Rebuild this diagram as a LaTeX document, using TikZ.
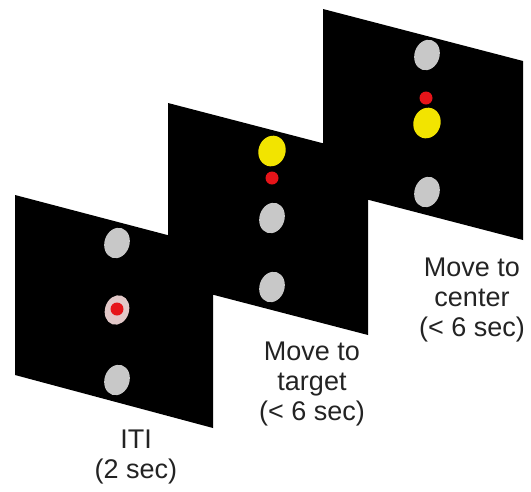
\documentclass[tikz,border=0pt]{standalone}
\usepackage{fontspec}
\setmainfont{Liberation Sans}
\usetikzlibrary{shapes.geometric}
\definecolor{dotgray}{RGB}{200,200,200}
\definecolor{dotyellow}{RGB}{242,228,0}
\definecolor{dotred}{RGB}{230,20,25}
\definecolor{ringpink}{RGB}{226,200,200}
\definecolor{txtcol}{RGB}{35,35,35}
\begin{document}
\begin{tikzpicture}[x=1pt,y=-1pt,
  panel/.style={fill=black,draw=none},
  gdot/.style={ellipse,fill=dotgray,draw=none,minimum width=25pt,minimum height=31pt,inner sep=0pt,rotate=-18},
  ydot/.style={ellipse,fill=dotyellow,draw=none,minimum width=27pt,minimum height=31pt,inner sep=0pt,rotate=-18},
  rdot/.style={circle,fill=dotred,draw=none,minimum size=13pt,inner sep=0pt},
  pdot/.style={ellipse,fill=ringpink,draw=none,minimum width=24pt,minimum height=30pt,inner sep=0pt,rotate=-18},
  lab/.style={align=center,text=txtcol,font=\fontsize{27}{30}\selectfont,inner sep=0pt}
]
\useasboundingbox (0,0) rectangle (531,491);
% panel 3 (back)
\fill[panel] (323,9) -- (523,61) -- (523,240) -- (323,188) -- cycle;
\node[gdot] (c1) at (427,55) {};
\node[rdot] (c2) at (426,98) {};
\node[ydot] (c3) at (427,123) {};
\node[gdot] (c4) at (427,192) {};
% panel 2
\fill[panel] (168,103) -- (368,155) -- (368,335) -- (168,283) -- cycle;
\node[ydot] (b1) at (272,151) {};
\node[rdot] (b2) at (272,178) {};
\node[gdot] (b3) at (272,218) {};
\node[gdot] (b4) at (272,287) {};
% panel 1 (front)
\fill[panel] (15,195) -- (213,247) -- (213,428) -- (15,375) -- cycle;
\node[gdot] (a1) at (117,243) {};
\node[pdot] (a2) at (117,310) {};
\node[rdot] (a3) at (117,309) {};
\node[gdot] (a4) at (117,380) {};
% labels
\node[lab] (t1) at (136,457) {ITI\\(2 sec)};
\node[lab] (t2) at (312,384) {Move to\\target\\(< 6 sec)};
\node[lab] (t3) at (472,300) {Move to\\center\\(< 6 sec)};
\end{tikzpicture}
\end{document}
